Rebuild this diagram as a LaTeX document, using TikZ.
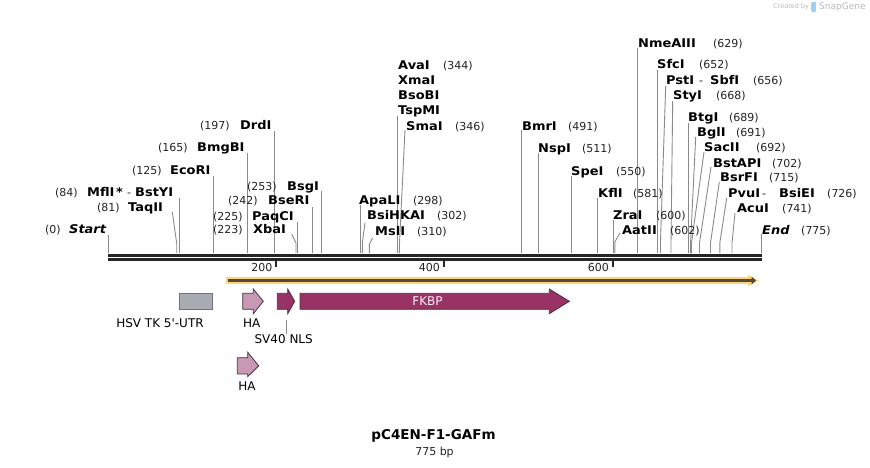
\documentclass[tikz,border=0pt]{standalone}
\usepackage{fontspec}
\setmainfont{DejaVu Sans}
\newfontfamily\wideface[FakeStretch=1.08]{DejaVu Sans}
\definecolor{cutcol}{HTML}{8A8A8A}
\definecolor{numcol}{HTML}{222222}
\definecolor{bb}{HTML}{262626}
\definecolor{orng}{HTML}{FDD47E}
\definecolor{brn}{HTML}{5A4636}
\definecolor{gry}{HTML}{A7ACB3}
\definecolor{gryedge}{HTML}{6E7378}
\definecolor{hacol}{HTML}{C898B4}
\definecolor{mag}{HTML}{993366}
\definecolor{fedge}{HTML}{4A3040}
\definecolor{wm}{HTML}{B8B8B8}
\definecolor{wmblue}{HTML}{9FD0EE}
\tikzset{
  nm/.style={inner sep=0pt, anchor=west, text height=8.6pt, text depth=0pt, font=\wideface\fontsize{12}{14}\selectfont\bfseries},
  nmi/.style={nm, font=\wideface\fontsize{12}{14}\selectfont\bfseries\itshape},
  nb/.style={inner sep=0pt, anchor=west, text height=8.6pt, text depth=0pt, font=\fontsize{11}{13}\selectfont, text=numcol},
  cut/.style={draw=cutcol, line width=0.9pt},
  flab/.style={inner sep=0pt, font=\fontsize{12}{14}\selectfont},
  tickl/.style={inner sep=0pt, anchor=east, text height=8pt, text depth=0pt, font=\fontsize{11}{13}\selectfont, text=numcol},
  feat/.style={draw=fedge, line width=0.8pt, line join=miter},
}
\begin{document}
\begin{tikzpicture}[x=1pt,y=-1pt]
\useasboundingbox (0,0) rectangle (870,467);

% watermark
\node[inner sep=0pt, anchor=west, font=\fontsize{6.5}{8}\selectfont, text=wm] (wm1) at (773,7) {Created by};
\fill[wmblue, rounded corners=1pt] (811,2) rectangle (816,12);
\node[inner sep=0pt, anchor=west, font=\fontsize{9}{10}\selectfont, text=wm] (wm2) at (819,7) {SnapGene};

% ---------- enzyme cut lines ----------
\draw[cut] (108,235) -- (108,253);
\draw[cut] (172.3,212) -- (176.7,243.3) -- (176.7,253);
\draw[cut] (179.3,198) -- (179.3,253);
\draw[cut] (213.3,176) -- (213.3,253);
\draw[cut] (247.7,153) -- (247.7,253);
\draw[cut] (274.7,131) -- (274.7,253);
\draw[cut] (291.7,234) -- (296,243) -- (296,253);
\draw[cut] (297.3,222) -- (297.3,253);
\draw[cut] (312.7,207) -- (312.7,253);
\draw[cut] (321.7,191) -- (321.7,253);
\draw[cut] (360,205) -- (360,253);
\draw[cut] (365,223) -- (362.3,243) -- (362.3,253);
\draw[cut] (372.7,238) -- (369.3,244) -- (369.3,253);
\draw[cut] (397.7,116) -- (397.7,253);
\draw[cut] (405,130) -- (399.3,247) -- (399.3,253);
\draw[cut] (521.7,130) -- (521.7,253);
\draw[cut] (538.3,153) -- (538.3,253);
\draw[cut] (571.3,176) -- (571.3,253);
\draw[cut] (597.7,198) -- (597.7,253);
\draw[cut] (613.3,220) -- (613.3,253);
\draw[cut] (620,233) -- (614.8,242) -- (614.8,253);
\draw[cut] (637.7,48) -- (637.7,253);
\draw[cut] (657.3,70) -- (657.3,253);
\draw[cut] (665.7,86) -- (660.5,241) -- (660.5,253);
\draw[cut] (672.7,101) -- (671,243) -- (671,253);
\draw[cut] (688.3,123) -- (688.3,253);
\draw[cut] (695.7,137) -- (690.5,244) -- (690.5,253);
\draw[cut] (704,152) -- (691.5,243) -- (691.5,253);
\draw[cut] (711,167) -- (699.5,243) -- (699.5,253);
\draw[cut] (719.3,182) -- (710.5,243) -- (710.5,253);
\draw[cut] (726.7,198) -- (719.8,243) -- (719.8,253);
\draw[cut] (735,213) -- (732,243) -- (732,253);
\draw[cut] (761.7,234) -- (761.7,253);

% ---------- left labels ----------
\node[nb] (n0) at (45,229) {(0)};
\node[nmi] (Start) at (69,229) {Start};
\node[nb] (n81) at (97,207) {(81)};
\node[nm] (TaqII) at (128,207) {TaqII};
\node[nb] (n84) at (55,192) {(84)};
\node[nm] (MflI) at (87,192) {MflI};
\node[nm] (star) at (116,192) {*};
\node[nb] (dash1) at (127,192) {-};
\node[nm] (BstYI) at (135,192) {BstYI};
\node[nb] (n125) at (132,170) {(125)};
\node[nm] (EcoRI) at (170,170) {EcoRI};
\node[nb] (n165) at (158,147) {(165)};
\node[nm] (BmgBI) at (197,147) {BmgBI};
\node[nb] (n197) at (200,125) {(197)};
\node[nm] (DrdI) at (240,125) {DrdI};
\node[nb] (n223) at (213,229) {(223)};
\node[nm] (XbaI) at (253,229) {XbaI};
\node[nb] (n225) at (213,216) {(225)};
\node[nm] (PaqCI) at (252,216) {PaqCI};
\node[nb] (n242) at (228,200) {(242)};
\node[nm] (BseRI) at (268,200) {BseRI};
\node[nb] (n253) at (247,186) {(253)};
\node[nm] (BsgI) at (287,186) {BsgI};

% ---------- right labels ----------
\node[nm] (ApaLI) at (359,200) {ApaLI};
\node[nb] (n298) at (413,200) {(298)};
\node[nm] (BsiHKAI) at (367,215) {BsiHKAI};
\node[nb] (n302) at (437,215) {(302)};
\node[nm] (MslI) at (375,231) {MslI};
\node[nb] (n310) at (417,231) {(310)};
\node[nm] (AvaI) at (398,65) {AvaI};
\node[nb] (n344) at (443,65) {(344)};
\node[nm] (XmaI) at (398,80) {XmaI};
\node[nm] (BsoBI) at (398,95) {BsoBI};
\node[nm] (TspMI) at (398,110) {TspMI};
\node[nm] (SmaI) at (406,126) {SmaI};
\node[nb] (n346) at (455,126) {(346)};
\node[nm] (BmrI) at (522,126) {BmrI};
\node[nb] (n491) at (568,126) {(491)};
\node[nm] (NspI) at (538,148) {NspI};
\node[nb] (n511) at (582,148) {(511)};
\node[nm] (SpeI) at (571,171) {SpeI};
\node[nb] (n550) at (616,171) {(550)};
\node[nm] (KflI) at (598,193) {KflI};
\node[nb] (n581) at (633,193) {(581)};
\node[nm] (ZraI) at (613,215) {ZraI};
\node[nb] (n600) at (656,215) {(600)};
\node[nm] (AatII) at (622,230) {AatII};
\node[nb] (n602) at (670,230) {(602)};
\node[nm] (NmeAIII) at (638,43) {NmeAIII};
\node[nb] (n629) at (713,43) {(629)};
\node[nm] (SfcI) at (657,64) {SfcI};
\node[nb] (n652) at (699,64) {(652)};
\node[nm] (PstI) at (666,80) {PstI};
\node[nb] (dash2) at (699,80) {-};
\node[nm] (SbfI) at (710,80) {SbfI};
\node[nb] (n656) at (753,80) {(656)};
\node[nm] (StyI) at (673,95) {StyI};
\node[nb] (n668) at (716,95) {(668)};
\node[nm] (BtgI) at (688,117) {BtgI};
\node[nb] (n689) at (729,117) {(689)};
\node[nm] (BglI) at (697,132) {BglI};
\node[nb] (n691) at (736,132) {(691)};
\node[nm] (SacII) at (704,147) {SacII};
\node[nb] (n692) at (756,147) {(692)};
\node[nm] (BstAPI) at (713,163) {BstAPI};
\node[nb] (n702) at (772,163) {(702)};
\node[nm] (BsrFI) at (720,177) {BsrFI};
\node[nb] (n715) at (769,177) {(715)};
\node[nm] (PvuI) at (728,193) {PvuI};
\node[nb] (dash3) at (762,193) {-};
\node[nm] (BsiEI) at (779,193) {BsiEI};
\node[nb] (n726) at (827,193) {(726)};
\node[nm] (AcuI) at (737,208) {AcuI};
\node[nb] (n741) at (782,208) {(741)};
\node[nmi] (End) at (762,230) {End};
\node[nb] (n775) at (801,230) {(775)};

% ---------- backbone ----------
\draw[bb, line width=3pt] (108,255.5) -- (761.7,255.5);
\draw[bb, line width=2.7pt] (108,259.4) -- (761.7,259.4);
\draw[bb, line width=2pt] (276,259) -- (276,267);
\draw[bb, line width=2pt] (443.5,259) -- (443.5,267);
\draw[bb, line width=2pt] (612.5,259) -- (612.5,267);
\node[tickl] (t200) at (272.5,267) {200};
\node[tickl] (t400) at (440,267) {400};
\node[tickl] (t600) at (609,267) {600};

% ---------- orange bar ----------
\draw[orng, line width=7pt] (226,280.5) -- (752,280.5);
\fill[orng] (748,275) -- (759,280.5) -- (748,286) -- cycle;
\draw[brn, line width=2.2pt] (228,280.5) -- (752,280.5);
\fill[brn] (751.5,276.5) -- (756,280.5) -- (751.5,284.5) -- cycle;

% ---------- features ----------
\draw[draw=gryedge, fill=gry, line width=0.8pt] (179,293.3) rectangle (212.7,309.3);
\draw[feat, fill=hacol] (242.7,293.3) -- (253.3,293.3) -- (253.3,289) -- (263.3,301.3) -- (253.3,313.7) -- (253.3,309.3) -- (242.7,309.3) -- cycle;
\draw[feat, fill=mag] (277.3,293.3) -- (287.7,293.3) -- (287.7,289) -- (294.7,301.3) -- (287.7,313.7) -- (287.7,309.3) -- (277.3,309.3) -- cycle;
\draw[feat, fill=mag] (300,293.3) -- (549.3,293.3) -- (549.3,289) -- (569.3,301.3) -- (549.3,313.7) -- (549.3,309.3) -- (300,309.3) -- cycle;
\node[flab, text=white!92!mag] (fkbp) at (427.5,301.3) {FKBP};
\draw[feat, fill=hacol] (237.3,357.7) -- (247.7,357.7) -- (247.7,352.3) -- (258.7,365.8) -- (247.7,376.7) -- (247.7,374) -- (237.3,374) -- cycle;

\node[flab] (hsv) at (160,322.7) {HSV TK 5\textquotesingle-UTR};
\node[flab] (ha1) at (251.7,322.7) {HA};
\coordinate (sv40top) at (286,320);
\node[flab] (sv40) at (283.7,339) {SV40 NLS};
\draw[cutcol, line width=0.8pt] (sv40top) -- (sv40.north -| sv40top);
\node[flab] (ha2) at (247,385.7) {HA};

% ---------- title ----------
\node[inner sep=0pt, font=\fontsize{13.5}{15}\selectfont\bfseries] (title) at (433.5,436) {pC4EN-F1-GAFm};
\node[inner sep=0pt, font=\fontsize{11}{13}\selectfont, text=numcol] (bp) at (434.5,452) {775 bp};
\end{tikzpicture}
\end{document}
